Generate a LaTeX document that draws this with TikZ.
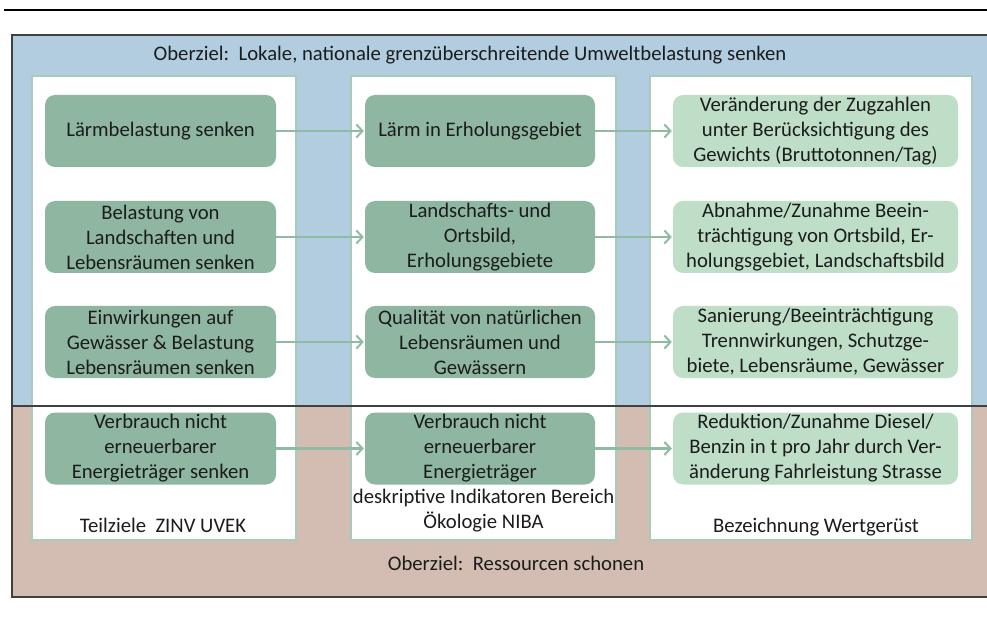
\documentclass[tikz,border=0pt]{standalone}
\usepackage{fontspec}
\setmainfont{Carlito}
\usetikzlibrary{arrows.meta}

\definecolor{skyband}{RGB}{178,205,224}
\definecolor{earthband}{RGB}{211,189,178}
\definecolor{goalgreen}{RGB}{143,182,160}
\definecolor{paleleaf}{RGB}{190,222,199}
\definecolor{coledge}{RGB}{168,202,184}
\definecolor{flowgreen}{RGB}{143,187,163}
\definecolor{inkgray}{RGB}{28,28,28}
\definecolor{framegray}{RGB}{64,64,64}

\tikzset{
  txt/.style={font=\fontsize{20.7}{25}\selectfont, text=inkgray, align=center, inner sep=0pt},
  column/.style={draw=coledge, line width=1.5pt, fill=white, inner sep=0pt},
  darkgoal/.style={txt, rounded corners=10pt, fill=goalgreen, minimum height=72pt},
  lightgoal/.style={txt, rounded corners=10pt, fill=paleleaf, minimum height=72pt, minimum width=285pt},
  leftgoal/.style={darkgoal, minimum width=231pt},
  midgoal/.style={darkgoal, minimum width=230pt},
  flow/.style={draw=flowgreen, line width=2.5pt, -{Straight Barb[length=6pt,width=13pt,line width=2pt]}, shorten >=1pt},
}

\begin{document}
\begin{tikzpicture}[x=1pt,y=-1pt]
  \useasboundingbox (0,0) rectangle (987,617);

  % rule above the figure
  \draw[black, line width=2pt] (4,10) -- (987,10);

  % two goal bands
  \fill[skyband] (12,35) rectangle (995,406);
  \fill[earthband] (12,406) rectangle (995,597);

  % three columns
  \node[column, minimum width=264pt, minimum height=464pt] (colA) at (164,308) {};
  \node[column, minimum width=265pt, minimum height=464pt] (colB) at (483.5,308) {};
  \node[column, minimum width=322pt, minimum height=464pt] (colC) at (811,308) {};

  % band divider and outer frame
  \draw[framegray, line width=1.5pt] (12,406) -- (995,406);
  \draw[framegray, line width=1.5pt] (995,35) -- (12,35) -- (12,597) -- (995,597);

  % band titles
  \node[txt] (topgoal) at (470,55) {Oberziel:\ \ Lokale, nationale grenzüberschreitende Umweltbelastung senken};
  \node[txt] (botgoal) at (516,563) {Oberziel:\ \ Ressourcen schonen};

  % column titles
  \node[txt] (titleA) at (163,525) {Teilziele\ \ ZINV UVEK};
  \node[txt] (titleB) at (483.5,511) {deskriptive Indikatoren Bereich\\Ökologie NIBA};
  \node[txt] (titleC) at (816,527) {Bezeichnung Wertgerüst};

  % sub-goals
  \node[leftgoal] (a1) at (160.5,131) {Lärmbelastung senken};
  \node[leftgoal] (a2) at (160.5,237) {Belastung von\\Landschaften und\\Lebensräumen senken};
  \node[leftgoal] (a3) at (160.5,342) {Einwirkungen auf\\Gewässer \& Belastung\\Lebensräumen senken};
  \node[leftgoal] (a4) at (160.5,448.5) {Verbrauch nicht\\erneuerbarer\\Energieträger senken};

  % indicators
  \node[midgoal] (b1) at (480,131) {Lärm in Erholungsgebiet};
  \node[midgoal] (b2) at (480,237) {Landschafts- und\\Ortsbild,\\Erholungsgebiete};
  \node[midgoal] (b3) at (480,342) {Qualität von natürlichen\\Lebensräumen und\\Gewässern};
  \node[midgoal] (b4) at (480,448.5) {Verbrauch nicht\\erneuerbarer\\Energieträger};

  % value framework
  \node[lightgoal] (c1) at (815.5,131) {Veränderung der Zugzahlen\\unter Berücksichtigung des\\Gewichts (Bruttotonnen/Tag)};
  \node[lightgoal] (c2) at (815.5,237) {Abnahme/Zunahme Beein-\\trächtigung von Ortsbild, Er-\\holungsgebiet, Landschaftsbild};
  \node[lightgoal] (c3) at (815.5,342) {Sanierung/Beeinträchtigung\\Trennwirkungen, Schutzge-\\biete, Lebensräume, Gewässer};
  \node[lightgoal] (c4) at (815.5,448.5) {Reduktion/Zunahme Diesel/\\Benzin in t pro Jahr durch Ver-\\änderung Fahrleistung Strasse};

  % links between columns
  \foreach \r in {1,2,3,4} {
    \draw[flow] (a\r.east) -- (b\r.west);
    \draw[flow] (b\r.east) -- (c\r.west);
  }
\end{tikzpicture}
\end{document}
